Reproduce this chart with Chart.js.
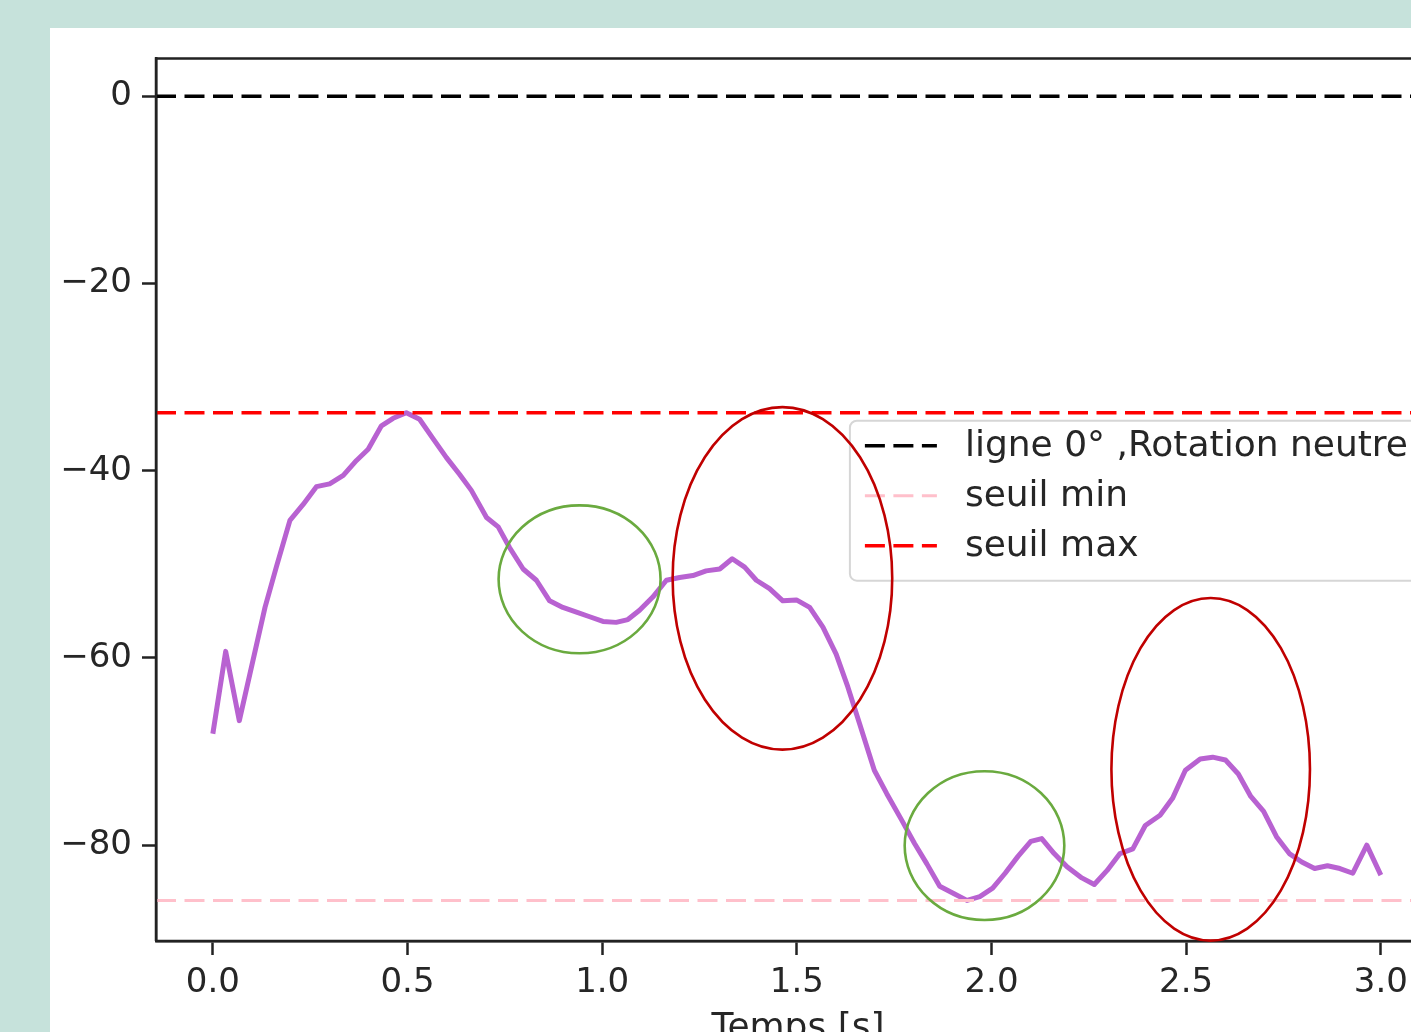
<!DOCTYPE html>
<html lang="fr">
<head>
    <meta charset="UTF-8">
    <title>Rotation</title>
    <style>
        html, body {
            margin: 0;
            padding: 0;
            width: 1411px;
            height: 1032px;
            overflow: hidden;
            background: #c6e2db;
        }
        #panel {
            position: absolute;
            left: 50px;
            top: 28px;
            width: 1500px;
            height: 1100px;
            background: #ffffff;
        }
        #canvas {
            position: absolute;
            left: 0;
            top: 0;
        }
    </style>
</head>
<body>

<div id="panel">
    <canvas id="canvas" width="1440" height="1026"></canvas>
</div>

<script src="https://cdn.jsdelivr.net/npm/chart.js@4.4.0/dist/chart.umd.min.js"></script>
<script>
    // temps (s) et angle (deg)
    const TIMES = [
        0, 0.033, 0.068, 0.134, 0.163, 0.198, 0.232, 0.266, 0.3,
        0.335, 0.369, 0.399, 0.433, 0.463, 0.497, 0.531, 0.566, 0.6, 0.634,
        0.664, 0.703, 0.733, 0.762, 0.797, 0.831, 0.865, 0.899, 0.934, 0.968,
        1.002, 1.036, 1.066, 1.096, 1.13, 1.165, 1.199, 1.233, 1.267, 1.302,
        1.334, 1.366, 1.396, 1.43, 1.464, 1.499, 1.533, 1.567, 1.601, 1.631,
        1.661, 1.699, 1.731, 1.769, 1.802, 1.834, 1.867, 1.904, 1.937, 1.97,
        2.003, 2.035, 2.068, 2.101, 2.129, 2.161, 2.194, 2.232, 2.264, 2.297,
        2.33, 2.363, 2.395, 2.433, 2.465, 2.498, 2.536, 2.568, 2.601, 2.634,
        2.666, 2.699, 2.732, 2.765, 2.797, 2.83, 2.863, 2.895, 2.928, 2.964,
        3.0
    ];
    const ANGLES = [
        -68.1, -59.3, -66.7, -54.6, -50.3, -45.3, -43.6, -41.7, -41.4,
        -40.5, -38.9, -37.7, -35.2, -34.4, -33.8, -34.5, -36.6, -38.6, -40.4,
        -42.1, -45.0, -46.0, -48.2, -50.5, -51.7, -53.9, -54.6, -55.1, -55.6,
        -56.1, -56.2, -55.9, -54.9, -53.5, -51.7, -51.4, -51.2, -50.7, -50.5,
        -49.4, -50.3, -51.7, -52.6, -53.9, -53.8, -54.6, -56.7, -59.6, -63.1,
        -67.0, -72.0, -74.5, -77.3, -79.8, -82.0, -84.4, -85.2, -85.9, -85.5,
        -84.6, -83.0, -81.2, -79.6, -79.3, -80.9, -82.3, -83.5, -84.2, -82.7,
        -80.9, -80.4, -77.9, -76.8, -75.0, -72.0, -70.8, -70.6, -70.9, -72.4,
        -74.8, -76.4, -79.1, -80.9, -81.8, -82.5, -82.2, -82.5, -83.0, -80.0,
        -83.2
    ];

    const LINE_LABELS = ["ligne 0° ,Rotation neutre", "seuil min", "seuil max"];
    const LINE_VALUES = [0, -85.9, -33.8];
    const LINE_COLORS = ["#000000", "#ffc0cb", "#ff0000"];

    const X_TICKS = [0, 0.5, 1.0, 1.5, 2.0, 2.5, 3.0];
    const Y_TICKS = [0, -20, -40, -60, -80];
    const X_RANGE = [-0.146, 3.152];
    const Y_RANGE = [-90.24, 4.05];

    // annotations: centre (t, angle), demi-axes (s, deg)
    const MARK_T = [0.942, 1.463, 1.982, 2.563];
    const MARK_A = [-51.6, -51.5, -80.05, -71.9];
    const MARK_RT = [0.208, 0.282, 0.205, 0.255];
    const MARK_RA = [7.9, 18.3, 7.95, 18.3];
    const MARK_COLORS = ["#6aaa3f", "#c00000", "#6aaa3f", "#c00000"];

    const FONT = "DejaVu Sans";
    const TEXT = "#262626";
    const AXIS = "#222222";

    Chart.defaults.font.family = FONT;
    Chart.defaults.font.size = 34;
    Chart.defaults.color = TEXT;

    const lineSets = LINE_LABELS.map(function (label, i) {
        return {
            label: label,
            data: [{x: X_RANGE[0], y: LINE_VALUES[i]}, {x: X_RANGE[1], y: LINE_VALUES[i]}],
            borderColor: LINE_COLORS[i],
            borderWidth: i === 1 ? 3 : 3.5,
            borderDash: [20, 8.5],
            pointRadius: 0,
            order: 1 + i
        };
    });

    const angleSet = {
        label: "angle",
        data: TIMES.map(function (t, i) { return {x: t, y: ANGLES[i]}; }),
        borderColor: "#b862d1",
        borderWidth: 5,
        borderJoinStyle: "round",
        pointRadius: 0,
        tension: 0,
        order: 10
    };

    const framePlugin = {
        id: "frame",
        afterDatasetsDraw(chart) {
            const c = chart.ctx, a = chart.chartArea;
            c.save();
            c.strokeStyle = AXIS;
            c.lineWidth = 2.5;
            c.beginPath();
            c.moveTo(a.left, a.bottom);
            c.lineTo(a.left, a.top);
            c.lineTo(a.right, a.top);
            c.lineTo(a.right, a.bottom);
            c.lineTo(a.left, a.bottom);
            c.stroke();
            c.restore();
        }
    };

    const legendPlugin = {
        id: "boxLegend",
        afterDatasetsDraw(chart) {
            const c = chart.ctx, a = chart.chartArea;
            const sets = chart.data.datasets.filter(function (d) { return d.label !== "angle"; });
            c.save();
            c.font = "36px " + FONT;
            let tw = 0;
            sets.forEach(function (d) { tw = Math.max(tw, c.measureText(d.label).width); });
            const w = 15 + 72 + 28 + tw + 15;
            const h = 160;
            const mid = (a.top + a.bottom) / 2;
            const right = a.right - 17;
            const left = right - w;
            const top = mid - 79;
            c.beginPath();
            c.roundRect(left, top, w, h, 7);
            c.fillStyle = "rgba(255,255,255,0.85)";
            c.fill();
            c.strokeStyle = "#d6d6d6";
            c.lineWidth = 2;
            c.stroke();
            sets.forEach(function (d, i) {
                const y = mid - 54 + i * 50;
                c.beginPath();
                c.setLineDash(d.borderDash);
                c.strokeStyle = d.borderColor;
                c.lineWidth = d.borderWidth;
                c.moveTo(left + 15, y);
                c.lineTo(left + 87, y);
                c.stroke();
                c.setLineDash([]);
                c.fillStyle = TEXT;
                c.textBaseline = "middle";
                c.textAlign = "left";
                c.fillText(d.label, left + 115, y + 1);
            });
            c.restore();
        }
    };

    const markPlugin = {
        id: "marks",
        afterDraw(chart) {
            const c = chart.ctx, xs = chart.scales.x, ys = chart.scales.y;
            c.save();
            c.lineWidth = 2.6;
            MARK_T.forEach(function (t, i) {
                const cx = xs.getPixelForValue(t);
                const cy = ys.getPixelForValue(MARK_A[i]);
                const rx = Math.abs(xs.getPixelForValue(t + MARK_RT[i]) - cx);
                const ry = Math.abs(ys.getPixelForValue(MARK_A[i] + MARK_RA[i]) - cy);
                c.beginPath();
                c.strokeStyle = MARK_COLORS[i];
                c.ellipse(cx, cy, rx, ry, 0, 0, Math.PI * 2);
                c.stroke();
            });
            c.restore();
        }
    };

    const axisGrid = {
        display: true,
        drawOnChartArea: false,
        drawTicks: true,
        tickLength: 14,
        tickWidth: 2.5,
        tickColor: AXIS
    };

    const chart = new Chart(document.getElementById("canvas"), {
        type: "line",
        data: {datasets: [angleSet].concat(lineSets)},
        options: {
            responsive: false,
            animation: false,
            layout: {padding: {top: 29, left: 0, right: 50, bottom: 0}},
            plugins: {
                legend: {display: false},
                tooltip: {enabled: false}
            },
            scales: {
                x: {
                    type: "linear",
                    min: X_RANGE[0],
                    max: X_RANGE[1],
                    afterBuildTicks: function (s) { s.ticks = X_TICKS.map(function (v) { return {value: v}; }); },
                    afterFit: function (s) { s.height = 113; },
                    ticks: {
                        padding: 8,
                        color: TEXT,
                        maxRotation: 0,
                        callback: function (v) { return Number(v).toFixed(1); }
                    },
                    grid: axisGrid,
                    border: {display: true, color: AXIS, width: 2.5},
                    title: {display: true, text: "Temps [s]", color: TEXT, font: {size: 36}, padding: {top: 4, bottom: 4}}
                },
                y: {
                    type: "linear",
                    min: Y_RANGE[0],
                    max: Y_RANGE[1],
                    afterBuildTicks: function (s) { s.ticks = Y_TICKS.map(function (v) { return {value: v}; }); },
                    afterFit: function (s) { s.width = 106; },
                    ticks: {
                        padding: 10,
                        color: TEXT,
                        callback: function (v) { return v < 0 ? "\u2212" + Math.abs(v) : String(v); }
                    },
                    grid: axisGrid,
                    border: {display: true, color: AXIS, width: 2.5}
                }
            }
        },
        plugins: [framePlugin, legendPlugin, markPlugin]
    });
</script>
</body>
</html>
